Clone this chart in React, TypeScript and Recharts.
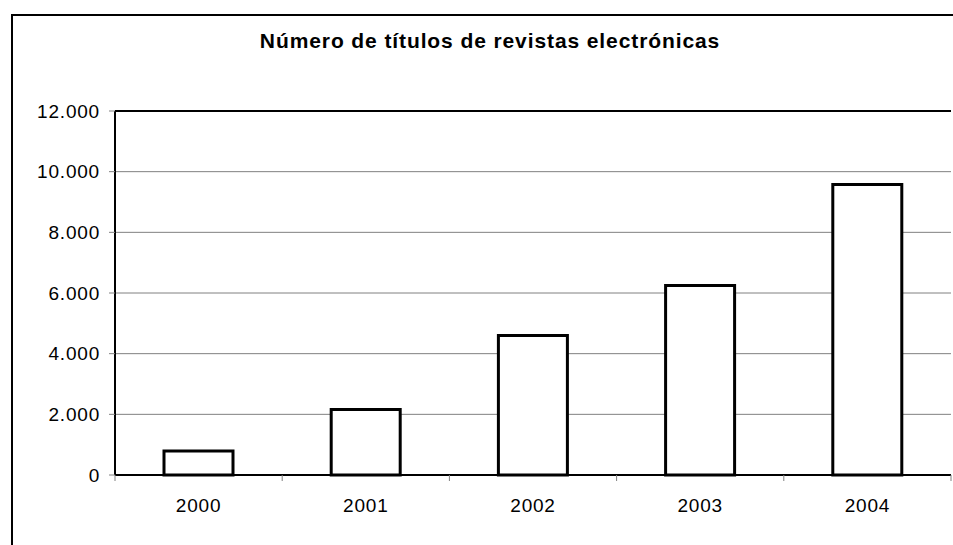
import { BarChart, Bar, XAxis, YAxis, CartesianGrid, ReferenceLine } from "recharts"

const years = ["2000", "2001", "2002", "2003", "2004"]
const titles = [790, 2160, 4600, 6250, 9580]
const yTicks = [0, 2000, 4000, 6000, 8000, 10000, 12000]

const data = years.map((year, i) => ({ year, value: titles[i] }))

const W = 953
const H = 545
const PLOT_LEFT = 115
const PLOT_RIGHT = 951
const BAND = (PLOT_RIGHT - PLOT_LEFT) / years.length
const FONT = "'Liberation Sans', Arial, sans-serif"

const fmt = (v: number) => String(v).replace(/\B(?=(\d{3})+(?!\d))/g, ".")

function YearTick(props: any) {
  const { x, payload, index } = props
  const axisY = 475
  return (
    <g>
      <line x1={x - BAND / 2} x2={x - BAND / 2} y1={axisY} y2={axisY + 6} stroke="#808080" />
      {index === years.length - 1 && (
        <line x1={x + BAND / 2} x2={x + BAND / 2} y1={axisY} y2={axisY + 6} stroke="#808080" />
      )}
      <text
        x={x}
        y={axisY + 30}
        textAnchor="middle"
        dominantBaseline="central"
        fontFamily={FONT}
        fontSize={19}
        letterSpacing={0.8}
        fill="#000"
      >
        {payload.value}
      </text>
    </g>
  )
}

export default function App() {
  return (
    <div style={{ position: "absolute", left: 0, top: 0, width: W, height: H, background: "#fff", overflow: "hidden" }}>
      <div
        style={{
          position: "absolute",
          left: 11,
          top: 14,
          width: W,
          height: H,
          borderLeft: "2px solid #000",
          borderTop: "2px solid #000",
        }}
      />
      <div
        style={{
          position: "absolute",
          left: 0,
          top: 29,
          width: 980,
          textAlign: "center",
          fontFamily: FONT,
          fontWeight: "bold",
          fontSize: 21,
          letterSpacing: 0.9,
        }}
      >
        Número de títulos de revistas electrónicas
      </div>
      <div style={{ position: "absolute", left: 0, top: 0 }}>
        <BarChart width={W} height={H} data={data} margin={{ top: 111, right: W - PLOT_RIGHT, bottom: 40, left: 0 }} barCategoryGap={49}>
          <CartesianGrid vertical={false} stroke="#808080" strokeWidth={1} />
          <XAxis
            dataKey="year"
            height={30}
            axisLine={{ stroke: "#000", strokeWidth: 2 }}
            tickLine={false}
            tick={<YearTick />}
            interval={0}
          />
          <YAxis
            width={PLOT_LEFT}
            domain={[0, 12000]}
            ticks={yTicks}
            tickFormatter={fmt}
            axisLine={{ stroke: "#000", strokeWidth: 2 }}
            tickLine={{ stroke: "#808080" }}
            tickSize={6}
            tickMargin={9}
            tick={{ fill: "#000", fontFamily: FONT, fontSize: 19, letterSpacing: 0.8 }}
          />
          <YAxis
            yAxisId="right"
            orientation="right"
            width={0}
            domain={[0, 12000]}
            tick={false}
            tickLine={false}
            axisLine={{ stroke: "#000", strokeWidth: 2 }}
          />
          <ReferenceLine y={12000} stroke="#000" strokeWidth={2} />
          <Bar dataKey="value" fill="#fff" stroke="#000" strokeWidth={3} isAnimationActive={false} />
        </BarChart>
      </div>
    </div>
  )
}
